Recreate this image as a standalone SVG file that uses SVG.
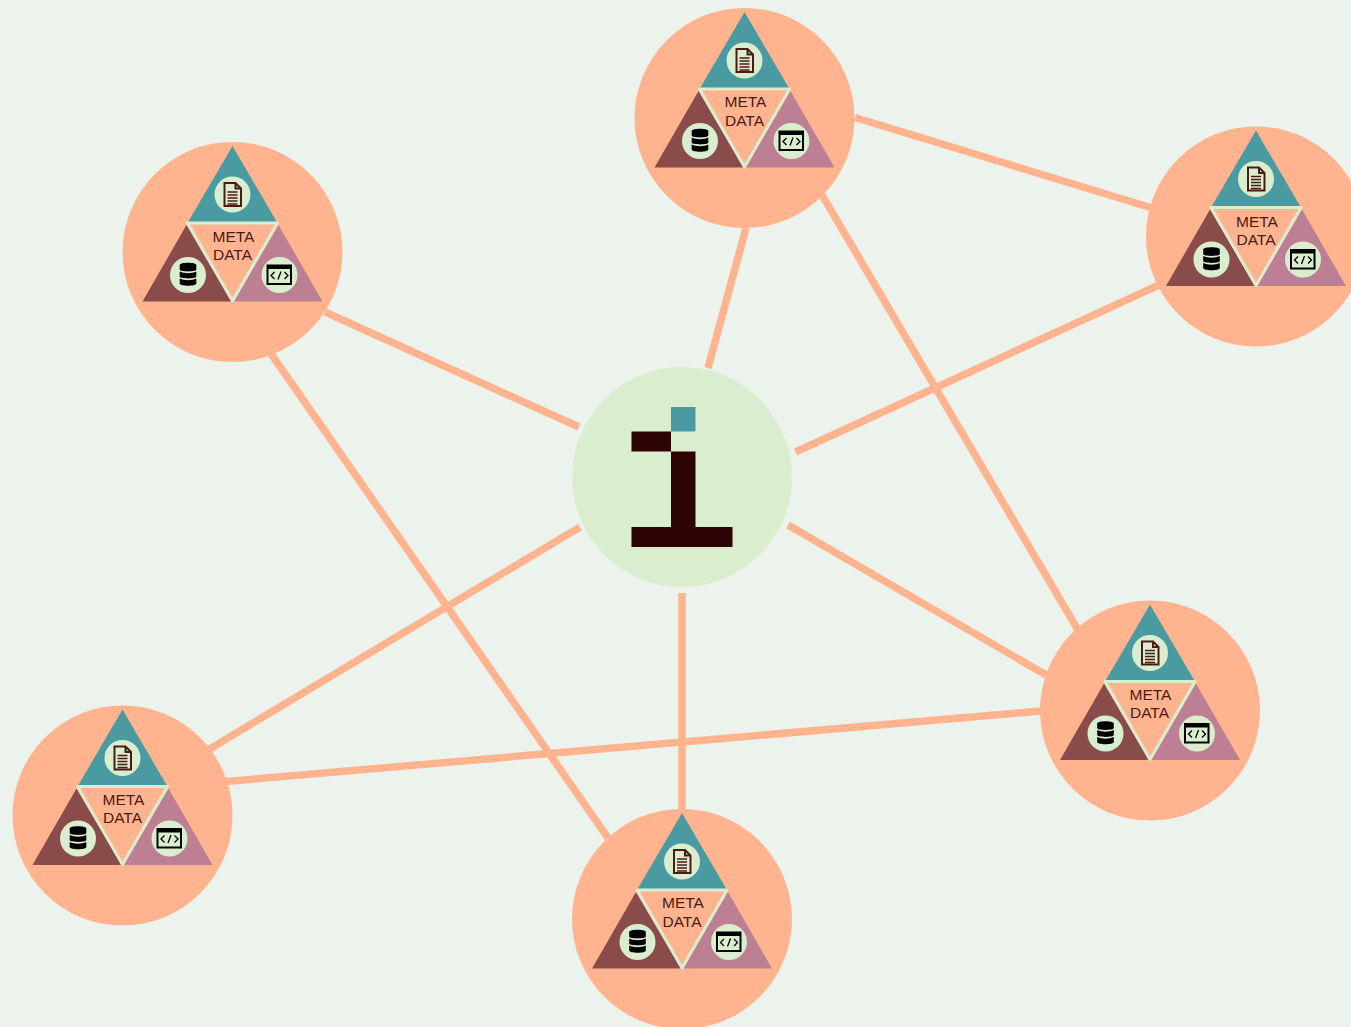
<svg xmlns="http://www.w3.org/2000/svg" xmlns:xlink="http://www.w3.org/1999/xlink" width="1351" height="1027" viewBox="0 0 1351 1027">
<style>
.bg{fill:#ecf3ec}
.conn{stroke:#ffb48f;stroke-width:7.500;fill:none}
.disc{fill:#ffb48f}
.teal{fill:#4a9aa1}
.brown{fill:#8a4c4b}
.mauve{fill:#bc7f93}
.mid{fill:#ffb48f;stroke:#daeecf;stroke-width:3;stroke-linejoin:round}
.chip{fill:#daeecf}
.dark{fill:#2e0303}
.lbl{font-family:"Liberation Sans",Arial,sans-serif;font-size:15.500px;fill:#4a1a14;text-anchor:middle}
</style>
<defs>
<g id="badge">
<circle class="disc" r="110"/>
<polygon class="teal" points="0,-106 45,-29 -45,-29"/>
<polygon class="brown" points="-46,-27 -90,49.500 -1,49.500"/>
<polygon class="mauve" points="46,-27 90,49.500 1,49.500"/>
<polygon class="mid" points="-45,-29 45,-29 0,49"/>
<circle class="chip" cy="-57.500" r="18"/>
<circle class="chip" cx="-44.500" cy="23" r="18"/>
<circle class="chip" cx="47" cy="23" r="18"/>
<g fill="none" stroke="#4a1a14">
<path stroke-width="2" d="M-8,-69 H3 L8.500,-63.500 V-46 H-8 Z M3,-69 V-63.500 H8.500"/>
<path stroke-width="1.500" d="M-5,-60 H5 M-5,-57 H5 M-5,-54 H5 M-5,-51 H5 M-5,-48 H5"/>
</g>
<g fill="#000">
<path d="M-52.800,13 C-52.800,10 -36.200,10 -36.200,13 V17.500 C-36.200,20 -52.800,20 -52.800,17.500 Z"/>
<path d="M-52.800,19.500 C-48,21.800 -41,21.800 -36.200,19.500 V24.500 C-36.200,27 -52.800,27 -52.800,24.500 Z"/>
<path d="M-52.800,26.500 C-48,28.800 -41,28.800 -36.200,26.500 V31.500 C-36.200,34.500 -52.800,34.500 -52.800,31.500 Z"/>
</g>
<g fill="none" stroke="#000">
<rect x="35" y="13.500" width="23.500" height="18.500" stroke-width="2"/>
<path stroke-width="3" d="M35,15.500 H58.500"/>
<path stroke-width="1.300" d="M42,20 L38.500,23.500 L42,27 M52,20 L55.500,23.500 L52,27 M48.500,19.500 L45.500,27.500"/>
</g>
</g>
</defs>
<rect class="bg" width="1351" height="1027"/>
<g id="connectors">
<line class="conn" x1="746" y1="228" x2="708" y2="368"/>
<line class="conn" x1="855" y1="117.500" x2="1152" y2="208"/>
<line class="conn" x1="822" y1="195" x2="1078" y2="630"/>
<line class="conn" x1="1160" y1="284.500" x2="795.500" y2="452"/>
<line class="conn" x1="325" y1="312" x2="579" y2="427"/>
<line class="conn" x1="270.500" y1="353" x2="608" y2="838"/>
<line class="conn" x1="580" y1="527" x2="208" y2="750"/>
<line class="conn" x1="682" y1="593" x2="682" y2="810"/>
<line class="conn" x1="788" y1="525" x2="1046" y2="675"/>
<line class="conn" x1="226" y1="781.500" x2="1041" y2="711"/>
</g>
<g id="center">
<circle cx="682" cy="477" r="110" fill="#daeecf"/>
<rect class="teal" x="671" y="407" width="24.500" height="24.500"/>
<path class="dark" d="M631.500,431.500 H671 V451.500 H631.500 Z M671,451.500 H695.500 V527 H732.500 V547 H631.500 V527 H671 Z"/>
</g>
<g id="node-top" transform="translate(744.500 118)"><use href="#badge"/><text class="lbl" x="1" y="-11">META</text><text class="lbl" y="7.500">DATA</text></g>
<g id="node-right" transform="translate(1256 236.500)"><use href="#badge"/><text class="lbl" x="1" y="-10">META</text><text class="lbl" y="8.500">DATA</text></g>
<g id="node-left" transform="translate(232.500 252)"><use href="#badge"/><text class="lbl" x="1" y="-10.500">META</text><text class="lbl" y="8">DATA</text></g>
<g id="node-lower-right" transform="translate(1150 710.500)"><use href="#badge"/><text class="lbl" x="0.500" y="-11">META</text><text class="lbl" x="-0.500" y="7.500">DATA</text></g>
<g id="node-lower-left" transform="translate(122.500 815.500)"><use href="#badge"/><text class="lbl" x="1" y="-11">META</text><text class="lbl" y="7.500">DATA</text></g>
<g id="node-bottom" transform="translate(682 919)"><use href="#badge"/><text class="lbl" x="1" y="-11">META</text><text class="lbl" y="7.500">DATA</text></g>
</svg>
